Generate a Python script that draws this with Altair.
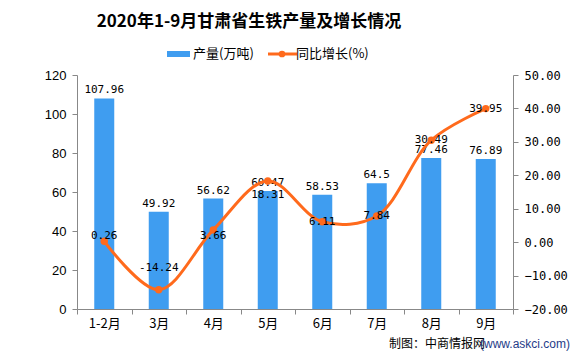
import altair as alt
import pandas as pd

months = ["1-2月", "3月", "4月", "5月", "6月", "7月", "8月", "9月"]
output = [107.96, 49.92, 56.62, 60.47, 58.53, 64.5, 77.46, 76.89]
growth = [0.26, -14.24, 3.66, 18.31, 6.11, 7.84, 30.49, 39.95]
output_labels = ["107.96", "49.92", "56.62", "60.47", "58.53", "64.5", "77.46", "76.89"]
growth_labels = ["0.26", "-14.24", "3.66", "18.31", "6.11", "7.84", "30.49", "39.95"]
left_ticks = [0, 20, 40, 60, 80, 100, 120]
right_ticks = [-20, -10, 0, 10, 20, 30, 40, 50]

title_text = "2020年1-9月甘肃省生铁产量及增长情况"
legend_bar = "产量(万吨)"
legend_line = "同比增长(%)"
source_a = "制图：中商情报网"
source_b = "(www.askci.com)"

BLUE = "#3F9DF0"
ORANGE = "#FF6A1C"
MONO = "DejaVu Sans Mono"
CJK = "Noto Sans CJK SC"

df = pd.DataFrame({
    "month": months,
    "output": output,
    "growth": growth,
    "olab": output_labels,
    "glab": growth_labels,
})

x_enc = alt.X(
    "month:N", sort=months, title=None,
    scale=alt.Scale(paddingInner=0, paddingOuter=0),
    axis=alt.Axis(labelAngle=0, tickBand="extent", labelFont=CJK, labelFontSize=13,
                  labelColor="#000", domainColor="#888", tickColor="#888",
                  tickSize=5, labelPadding=3),
)

y_left = alt.Y(
    "output:Q", title=None,
    scale=alt.Scale(domain=[0, 120], nice=False),
    axis=alt.Axis(values=left_ticks, tickCount=7, grid=False, labelOverlap=False,
                  labelFont="Liberation Sans", labelFontSize=13, labelColor="#000",
                  domainColor="#888", tickColor="#888", tickSize=5, labelPadding=6),
)
y_right = alt.Y(
    "growth:Q", title=None,
    scale=alt.Scale(domain=[-20, 50], nice=False),
    axis=alt.Axis(orient="right", values=right_ticks, tickCount=8, format=".2f",
                  grid=False, labelOverlap=False, labelFont=MONO, labelFontSize=12,
                  labelColor="#000", domainColor="#888", tickColor="#888", tickSize=5,
                  labelPadding=6),
)

base = alt.Chart(df)
bars = base.mark_bar(color=BLUE, size=20).encode(x=x_enc, y=y_left)
bar_text = base.mark_text(font=MONO, fontSize=11, baseline="bottom", dy=-3, color="#000").encode(
    x=x_enc, y=y_left, text="olab:N")
left = alt.layer(bars, bar_text)

line = base.mark_line(color=ORANGE, strokeWidth=3, interpolate="catmull-rom").encode(
    x=x_enc, y=y_right)
pts = base.mark_circle(color=ORANGE, size=55, opacity=1).encode(x=x_enc, y=y_right)


def glabel(names, dy):
    return base.transform_filter(
        alt.FieldOneOfPredicate(field="month", oneOf=names)
    ).mark_text(font=MONO, fontSize=11, baseline="middle", color="#000", dy=dy).encode(
        x=x_enc, y=y_right, text="glab:N")


line_texts = [
    glabel(["1-2月"], -5),
    glabel(["3月"], -22),
    glabel(["4月"], 6),
    glabel(["5月"], 14),
    glabel(["6月", "7月", "8月", "9月"], 0),
]
right = alt.layer(line, pts, *line_texts)

one = pd.DataFrame({"k": [0]})
ann = alt.Chart(one)
title_mark = ann.mark_text(text=title_text, font=CJK, fontSize=17, fontWeight="bold",
                           color="#000", align="center", baseline="middle").encode(
    x=alt.value(172), y=alt.value(-53))
leg_rect = ann.mark_rect(color=BLUE).encode(
    x=alt.value(90), x2=alt.value(113), y=alt.value(-24), y2=alt.value(-18))
leg_text1 = ann.mark_text(text=legend_bar, font=CJK, fontSize=13, color="#000",
                          align="left", baseline="middle").encode(
    x=alt.value(116), y=alt.value(-21))
leg_line = ann.mark_rule(color=ORANGE, strokeWidth=3).encode(
    x=alt.value(191), x2=alt.value(220), y=alt.value(-21))
leg_dot = ann.mark_circle(color=ORANGE, size=45, opacity=1).encode(
    x=alt.value(205), y=alt.value(-21))
leg_text2 = ann.mark_text(text=legend_line, font=CJK, fontSize=13, color="#000",
                          align="left", baseline="middle").encode(
    x=alt.value(219), y=alt.value(-21))
src_b = ann.mark_text(text=source_b, font="Liberation Sans", fontSize=12, color="#1F3C88",
                      align="right", baseline="middle").encode(
    x=alt.value(493), y=alt.value(269))
src_a = ann.mark_text(text=source_a, font=CJK, fontSize=12, color="#000",
                      align="right", baseline="middle").encode(
    x=alt.value(408), y=alt.value(269))

chart = alt.layer(
    left, right, title_mark, leg_rect, leg_text1, leg_line, leg_dot, leg_text2, src_a, src_b
).resolve_scale(y="independent").properties(
    width=436, height=234,
    padding={"left": 69, "top": 67, "right": 60, "bottom": 43},
    autosize=alt.AutoSizeParams(type="none"),
    background="white",
).configure_view(stroke=None)

chart.save("out.html", embed_options={"renderer": "svg", "actions": False})
